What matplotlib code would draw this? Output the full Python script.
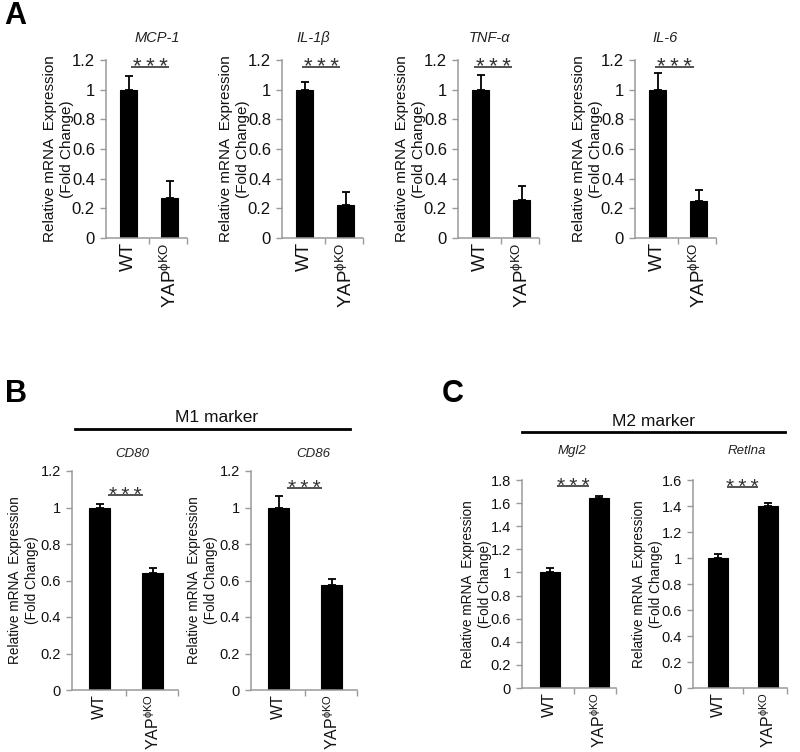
import matplotlib
matplotlib.use('Agg')
import matplotlib.pyplot as plt
import matplotlib.transforms as mtrans

plt.rcParams['font.family'] = ['Liberation Sans', 'DejaVu Sans']
plt.rcParams['mathtext.fontset'] = 'custom'
plt.rcParams['mathtext.rm'] = 'Liberation Sans'
plt.rcParams['mathtext.it'] = 'Liberation Sans:italic'

# ---------------- data ----------------
groups = ['WT', r'YAP$^{\mathrm{ϕKO}}$']

genes_a = ['MCP-1', 'IL-1β', 'TNF-α', 'IL-6']
means_a = [[1.0, 0.27], [1.0, 0.22], [1.0, 0.255], [1.0, 0.25]]
errs_a = [[0.09, 0.115], [0.055, 0.09], [0.10, 0.095], [0.115, 0.075]]

genes_b = ['CD80', 'CD86']
means_b = [[1.0, 0.64], [1.0, 0.575]]
errs_b = [[0.02, 0.03], [0.065, 0.035]]

genes_c = ['Mgl2', 'Retlna']
means_c = [[1.0, 1.64], [1.0, 1.40]]
errs_c = [[0.035, 0.025], [0.03, 0.025]]

yticks_a = [0, 0.2, 0.4, 0.6, 0.8, 1, 1.2]
yticks_b = [0, 0.2, 0.4, 0.6, 0.8, 1, 1.2]
yticks_c = [[0, 0.2, 0.4, 0.6, 0.8, 1, 1.2, 1.4, 1.6, 1.8],
            [0, 0.2, 0.4, 0.6, 0.8, 1, 1.2, 1.4, 1.6]]
ylabel = 'Relative mRNA  Expression\n(Fold Change)'
stars = '*\u2009*\u2009*'

W, H = 800, 752
fig = plt.figure(figsize=(W / 100, H / 100), dpi=100)

SPINE = '#9a9a9a'
TXT = '#111111'


def fmt(v):
    return '%g' % v


def make_panel(left, top, width, height, wt_px, yap_px, bar_px, means, errs,
               yticks, title, title_dx, title_y, sig_x, sig_y, tick_fs,
               lab_fs, xt_fs, title_fs, star_fs, lab_off):
    ax = fig.add_axes([left / W, 1 - (top + height) / H, width / W, height / H])
    unit = yap_px - wt_px
    xs = [0, 1]
    ax.bar(xs, means, width=bar_px / unit, color='black', edgecolor='black',
           linewidth=0.8, zorder=2)
    ax.errorbar(xs, means, yerr=[[0, 0], errs], fmt='none', ecolor='black',
                elinewidth=1.3, capsize=3.2, capthick=1.3, zorder=3)
    ax.set_xlim(-wt_px / unit, (width - wt_px) / unit)
    ax.set_ylim(0, yticks[-1])
    ax.set_yticks(yticks)
    ax.set_yticklabels([fmt(v) for v in yticks], fontsize=tick_fs, color=TXT)
    ax.set_xticks(xs)
    ax.set_xticklabels(groups, rotation=90, fontsize=xt_fs, color=TXT,
                       va='top', ha='center')
    ax.tick_params(axis='x', length=0, pad=3)
    ax.set_xticks([0.5, (width - wt_px) / unit], minor=True)
    ax.tick_params(axis='x', which='minor', length=4, color=SPINE, width=1)
    ax.tick_params(axis='y', length=4, color=SPINE, width=1, pad=4)
    for s in ['top', 'right']:
        ax.spines[s].set_visible(False)
    for s in ['left', 'bottom']:
        ax.spines[s].set_color(SPINE)
        ax.spines[s].set_linewidth(1.1)
    ax.set_ylabel(ylabel, fontsize=lab_fs, color=TXT, linespacing=1.25)
    ax.yaxis.set_label_coords(-lab_off / width, 0.5)
    ax.text(title_dx / width, 1 + (top - title_y) / height, title,
            transform=ax.transAxes, ha='center', va='center',
            fontsize=title_fs, style='italic', color='#222222')
    ax.plot(sig_x, [sig_y, sig_y], color='#222222', lw=1.1,
            solid_capstyle='butt', clip_on=False)
    off = -star_fs * 100 / 72 * 0.27
    tr = mtrans.offset_copy(ax.transData, fig=fig, x=0, y=off, units='dots')
    ax.text(sum(sig_x) / 2, sig_y, stars, transform=tr, ha='center',
            va='baseline', fontsize=star_fs, color='#333333', clip_on=False)
    return ax


# Panel A
lefts_a = [106, 282, 458, 635]
title_dx_a = [51, 31, 32, 30]
sig_x_a = [(0.07, 0.98), (-0.05, 0.87), (-0.15, 0.78), (-0.07, 0.88)]
for i in range(4):
    make_panel(lefts_a[i], 60, 81, 178, 22.5, 63.5, 17, means_a[i], errs_a[i],
               yticks_a, genes_a[i], title_dx_a[i], 38, sig_x_a[i], 1.15,
               12, 11, 13.5, 10.5, 16, 32)

# Panel B
lefts_b = [72, 251]
title_dx_b = [60, 62]
sig_y_b = [1.068, 1.107]
for i in range(2):
    make_panel(lefts_b[i], 471, 106, 219, 27.5, 80.5, 21, means_b[i], errs_b[i],
               yticks_b, genes_b[i], title_dx_b[i], 454, (0.16, 0.82), sig_y_b[i],
               10.5, 9.8, 11.5, 9.5, 15, 33)

# Panel C
lefts_c = [522, 693]
wt_c = [27.5, 25]
yap_c = [77, 75]
title_dx_c = [50, 54]
sig_x_c = [(0.15, 0.8), (0.18, 0.8)]
sig_y_c = [1.747, 1.546]
for i in range(2):
    make_panel(lefts_c[i], 480, 94, 208, wt_c[i], yap_c[i], 20, means_c[i], errs_c[i],
               yticks_c[i], genes_c[i], title_dx_c[i], 451, sig_x_c[i], sig_y_c[i],
               10.5, 9.8, 11.5, 9.5, 15, 30)


# group markers
def hline(x0, x1, y):
    fig.add_artist(plt.Line2D([x0 / W, x1 / W], [1 - y / H, 1 - y / H],
                              color='black', lw=2))


hline(75, 350, 429)
fig.text(217 / W, 1 - 417 / H, 'M1 marker', ha='center', va='center', fontsize=12.5, color=TXT)
hline(522, 785, 432)
fig.text(653 / W, 1 - 421 / H, 'M2 marker', ha='center', va='center', fontsize=12.5, color=TXT)

# panel letters
for lab, x, y in [('A', 4, 16), ('B', 5, 394), ('C', 442, 394)]:
    fig.text(x / W, 1 - y / H, lab, ha='left', va='center', fontsize=22,
             fontweight='bold', color='black')

fig.savefig('out.png', dpi=100)
